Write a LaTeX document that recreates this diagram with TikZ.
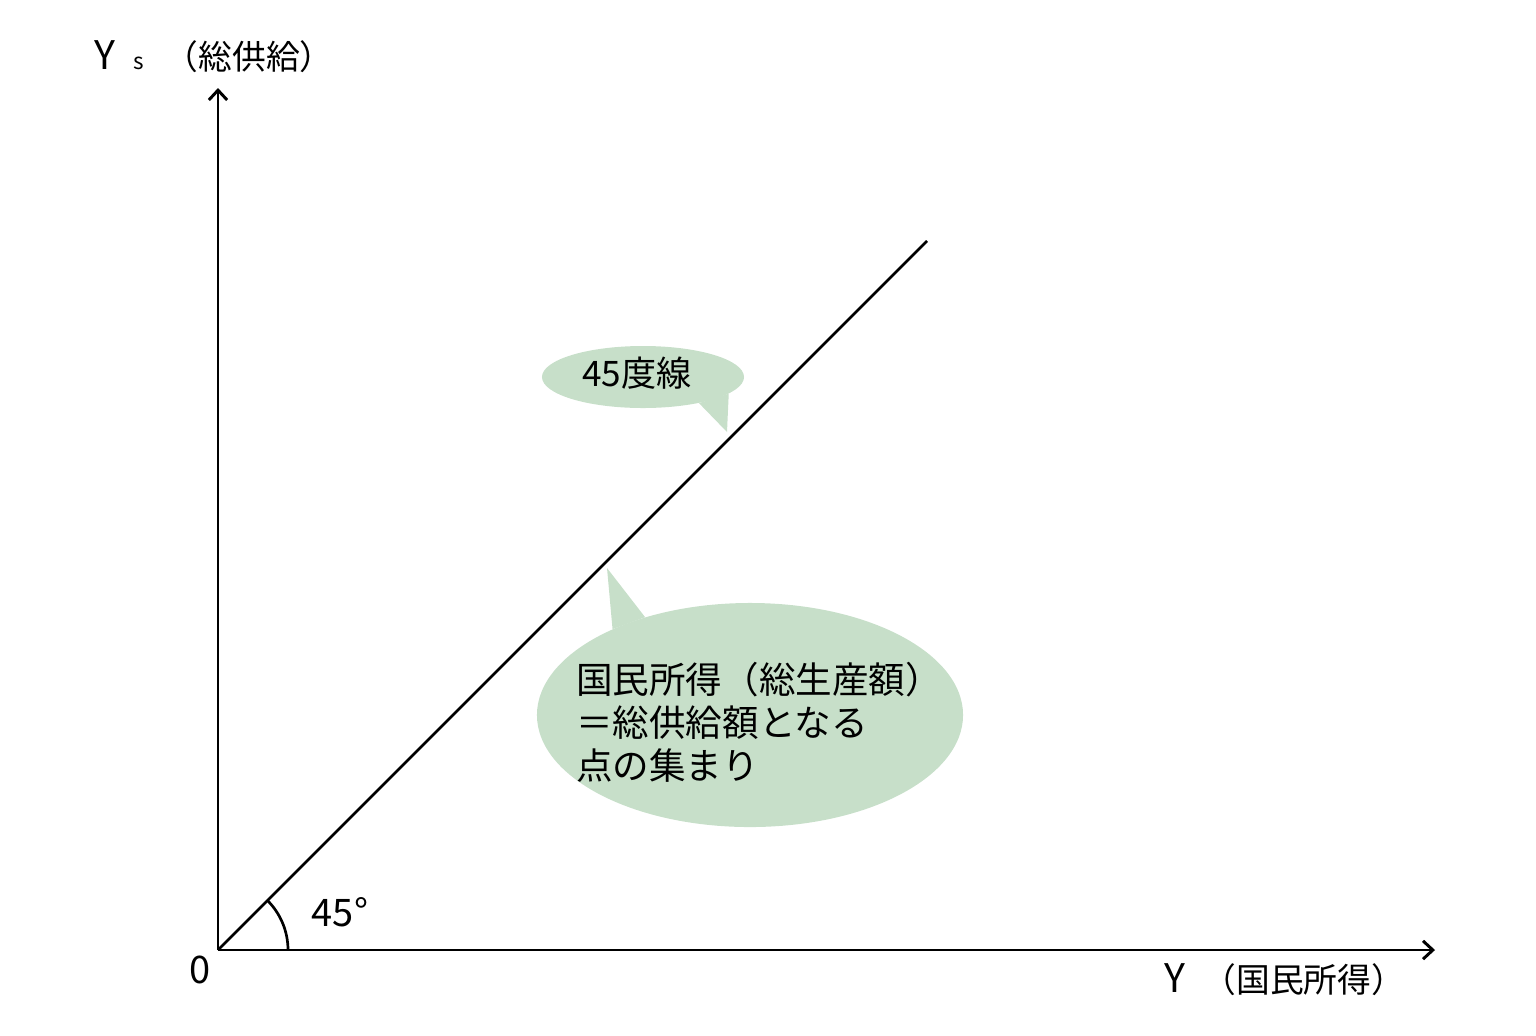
\documentclass[tikz,border=0pt]{standalone}
\usepackage{fontspec}
\setmainfont{Noto Sans CJK JP}
\usetikzlibrary{arrows.meta,shapes.geometric}
\definecolor{bubbleclr}{HTML}{C7DFC9}
\newcommand{\bigY}{{\fontsize{28pt}{28pt}\selectfont Y}}

\begin{document}
\begin{tikzpicture}[
  x=0.025cm, y=-0.025cm,
  axis/.style={-{Straight Barb[length=7pt,width=13pt]}, draw=black, line width=2.1pt},
  line/.style={draw=black, line width=1.9pt},
  bubble/.style={ellipse, fill=bubbleclr, inner sep=0pt},
  label/.style={font=\fontsize{24pt}{28pt}\selectfont, inner sep=0pt},
  digits/.style={font=\fontsize{27pt}{30pt}\selectfont, inner sep=0pt},
  note/.style={align=left, font=\fontsize{26pt}{30.5pt}\selectfont, inner sep=0pt}
]
\useasboundingbox (0,0) rectangle (1536,1035);

\coordinate (O) at (218,950);
\coordinate (ytop) at (218,88);
\coordinate (xend) at (1435,950);
\coordinate (lineend) at (927,241);
\coordinate (tipa) at (727,432);
\coordinate (tipb) at (607,568);

\node[bubble, minimum width=5.05cm, minimum height=1.55cm] (degbubble) at (643,377) {};
\fill[bubbleclr] (degbubble.-25) -- (tipa) -- (degbubble.-11) -- cycle;
\node[note, font=\fontsize{25pt}{30pt}\selectfont] (degtext) at (637,373) {45度線};

\node[bubble, minimum width=10.65cm, minimum height=5.6cm] (pointbubble) at (750,715) {};
\fill[bubbleclr] (pointbubble.148) -- (tipb) -- (pointbubble.137) -- cycle;
\node[note] (pointtext) at (759,722) {国民所得（総生産額）\\＝総供給額となる\\点の集まり};

\draw[axis] (O) -- (ytop);
\draw[axis] (O) -- (xend);
\draw[line] (O) -- (lineend);
\draw[line] (O) ++(70,0) arc[start angle=0, end angle=45, radius=1.75cm];

\node[digits] (origin) at (200,970) {0};
\node[digits] (anglelabel) at (340,912) {45°};
\node[label] (xlabel) at (1285,980) {\bigY\hspace{0.5em}（国民所得）};
\node[label] (ylabel) at (214,57) {\bigY\hspace{0.55em}{\fontsize{16pt}{16pt}\selectfont s}\hspace{0.6em}（総供給）};

\end{tikzpicture}
\end{document}
